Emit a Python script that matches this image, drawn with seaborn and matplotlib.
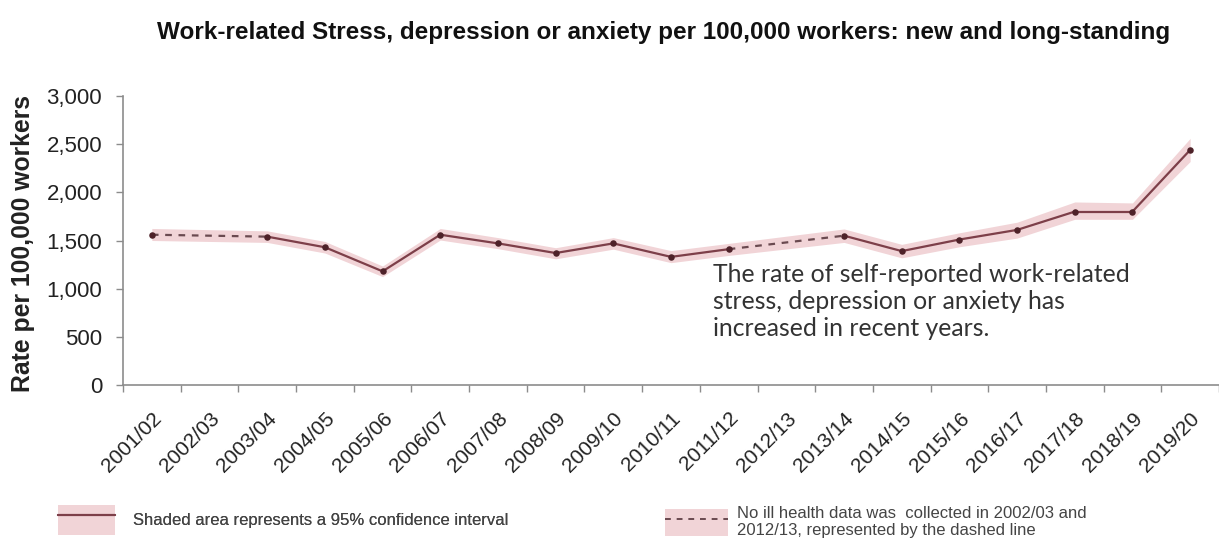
import numpy as np
import pandas as pd
import matplotlib
matplotlib.use("Agg")
import matplotlib.pyplot as plt
import seaborn as sns
from matplotlib.patches import Patch
from matplotlib.lines import Line2D
from matplotlib.legend_handler import HandlerTuple
from matplotlib.ticker import FuncFormatter

# ---- data ----
years = ["2001/02", "2002/03", "2003/04", "2004/05", "2005/06", "2006/07", "2007/08",
         "2008/09", "2009/10", "2010/11", "2011/12", "2012/13", "2013/14", "2014/15",
         "2015/16", "2016/17", "2017/18", "2018/19", "2019/20"]
rate = [1560, np.nan, 1540, 1430, 1180, 1560, 1470, 1370, 1470, 1330, 1410, np.nan,
        1550, 1390, 1510, 1610, 1800, 1800, 2440]
lower = [1500, np.nan, 1480, 1370, 1125, 1505, 1415, 1310, 1410, 1270, 1345, np.nan,
         1480, 1320, 1435, 1525, 1720, 1720, 2320]
upper = [1625, np.nan, 1600, 1490, 1235, 1625, 1530, 1425, 1530, 1395, 1470, np.nan,
         1620, 1460, 1580, 1690, 1900, 1890, 2560]
yticks = [0, 500, 1000, 1500, 2000, 2500, 3000]

title = "Work-related Stress, depression or anxiety per 100,000 workers: new and long-standing"
ylabel = "Rate per 100,000 workers"
note = "The rate of self-reported work-related\nstress, depression or anxiety has\nincreased in recent years."
legend1 = "Shaded area represents a 95% confidence interval"
legend2 = "No ill health data was  collected in 2002/03 and\n2012/13, represented by the dashed line"

# ---- style ----
sns.set_theme(style="white")
plt.rcParams["font.family"] = ["Liberation Sans", "DejaVu Sans"]

LINE = "#7d3f49"
DASH = "#6a4a50"
MARK = "#4e2229"
BAND = "#f1d4d7"
GREY = "#8c8c8c"

df = pd.DataFrame({"pos": np.arange(len(years)), "year": years, "rate": rate,
                   "lower": lower, "upper": upper})
valid = df.dropna()

fig = plt.figure(figsize=(12.19, 5.47), dpi=100)
ax = fig.add_axes([123 / 1219, 1 - 385 / 547, 1 - 123 / 1219, 289 / 547])

# confidence band (continues over gaps)
ax.fill_between(valid["pos"], valid["lower"], valid["upper"], color=BAND, lw=0, zorder=1)

# solid / dashed segments
vals = df["rate"].to_numpy()
idx_valid = [i for i in range(len(vals)) if not np.isnan(vals[i])]
for a, b in zip(idx_valid[:-1], idx_valid[1:]):
    seg = df.iloc[[a, b]]
    solid = (b - a == 1)
    sns.lineplot(data=seg, x="pos", y="rate", ax=ax, color=LINE if solid else DASH,
                 lw=1.6, linestyle="-" if solid else (0, (3, 3)), zorder=2,
                 estimator=None, sort=False)
sns.scatterplot(data=valid, x="pos", y="rate", ax=ax, color=MARK, s=22, edgecolor=MARK,
                linewidth=0, zorder=3)

ax.set_xlim(-0.5, len(years) - 0.5)
ax.set_ylim(0, 3000)
ax.set_yticks(yticks)
ax.yaxis.set_major_formatter(FuncFormatter(lambda v, p: f"{int(v):,}"))
ax.set_xticks(df["pos"])
ax.set_xticklabels(years, rotation=45, ha="right", rotation_mode="anchor")
ax.set_xticks(np.arange(-0.5, len(years)), minor=True)
ax.tick_params(axis="x", which="major", length=0, pad=17, labelsize=15, labelcolor="#222222")
ax.tick_params(axis="x", which="minor", length=5, width=1, color=GREY, direction="out", bottom=True)
ax.tick_params(axis="y", length=5, width=1, color=GREY, direction="out", left=True, pad=10,
               labelsize=16, labelcolor="#222222")
for s in ["top", "right"]:
    ax.spines[s].set_visible(False)
for s in ["left", "bottom"]:
    ax.spines[s].set_color(GREY)
    ax.spines[s].set_linewidth(1.2)
ax.set_xlabel("")
ax.set_ylabel(ylabel, fontsize=17.8, fontweight="bold", color="#222222")
ax.yaxis.set_label_coords(-0.08, 0.49)
ax.grid(False)

# annotation
ax.text(713 / 1219, 1 - 263 / 547, note, transform=fig.transFigure, ha="left", va="top",
        fontsize=17.8, family=["Lato", "DejaVu Sans"], color="#333333", linespacing=1.2)

# title
fig.text(664 / 1219, 1 - 33 / 547, title, ha="center", va="center", fontsize=17.5,
         fontweight="bold", color="#111111")

# legends
hmap = {tuple: HandlerTuple(ndivide=1, pad=0)}
h1 = (Patch(facecolor=BAND, edgecolor="none"), Line2D([], [], color=LINE, lw=1.6))
h2 = (Patch(facecolor=BAND, edgecolor="none"), Line2D([], [], color=DASH, lw=1.4, ls=(0, (3, 3))))
leg1 = fig.legend([h1], [legend1], loc="center left", bbox_to_anchor=(43 / 1219, 1 - 520 / 547),
                  frameon=False, fontsize=12, handlelength=3.4, handleheight=2.4,
                  handler_map=hmap, labelcolor="#444444", handletextpad=1.1)
fig.add_artist(leg1)
leg2 = fig.legend([h2], [legend2], loc="center left", bbox_to_anchor=(650 / 1219, 1 - 522 / 547),
                  frameon=False, fontsize=12, handlelength=3.8, handleheight=2.1,
                  handler_map=hmap, labelcolor="#444444", handletextpad=0.5)

fig.savefig("out.png", dpi=100)
